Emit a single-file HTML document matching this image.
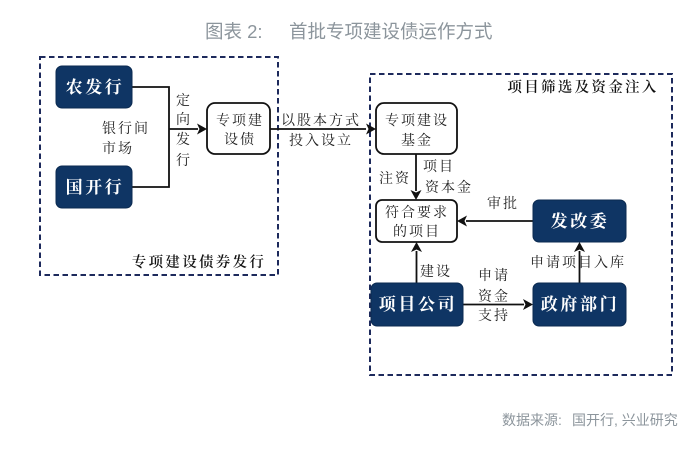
<!DOCTYPE html>
<html><head><meta charset="utf-8"><style>
html,body{margin:0;padding:0;background:#fff}
svg{display:block;filter:blur(.3px)}
.t{font-family:"Liberation Serif","Noto Serif CJK SC",serif;font-size:14px;fill:#1f1f1f;text-anchor:middle;letter-spacing:2px}
.m{font-size:14.500px;letter-spacing:2.300px;font-weight:600;fill:#111}
.w{font-family:"Liberation Serif","Noto Serif CJK SC",serif;font-size:17px;font-weight:700;fill:#fff;text-anchor:middle;letter-spacing:2.600px}
.g{font-family:"Liberation Sans","Noto Sans CJK SC",sans-serif;fill:#8c959c}
.b{fill:#0f3564;stroke:#0b2a50;stroke-width:1}
.o{fill:#fff;stroke:#111;stroke-width:1.8}
.l{fill:none;stroke:#111;stroke-width:1.8}
.d{fill:none;stroke:#1d2a5c;stroke-width:2;stroke-dasharray:5.500 3.500}
</style></head><body>
<svg width="700" height="451" viewBox="0 0 700 451" xmlns="http://www.w3.org/2000/svg">
<rect width="700" height="451" fill="#fff"/>
<text class="g" x="205" y="38" font-size="18.500">图表 2:</text>
<text class="g" x="289" y="38" font-size="18.500">首批专项建设债运作方式</text>

<rect class="d" x="40" y="57" width="238" height="218"/>
<rect class="d" x="370" y="74" width="302" height="301"/>

<path class="l" d="M132 87H169V187H132M169 129H198"/>
<path d="M207 129L197 123.500L199.500 129L197 134.500Z" fill="#111"/>
<path class="l" d="M270 129H366"/>
<path d="M376 129L366 123.500L368.500 129L366 134.500Z" fill="#111"/>
<path class="l" d="M416 154V191"/>
<path d="M416 200L410.500 190L416 192.500L421.500 190Z" fill="#111"/>
<path class="l" d="M533 221H466"/>
<path d="M457 221L467 215.500L464.500 221L467 226.500Z" fill="#111"/>
<path class="l" d="M416.500 283V251"/>
<path d="M416.500 242L411 252L416.500 249.500L422 252Z" fill="#111"/>
<path class="l" d="M579.500 283V251"/>
<path d="M579.500 242L574 252L579.500 249.500L585 252Z" fill="#111"/>
<path class="l" d="M463 304.500H524"/>
<path d="M533 304.500L523 299L525.500 304.500L523 310Z" fill="#111"/>

<rect class="b" x="56" y="66" width="76" height="42" rx="6"/>
<rect class="b" x="56" y="166" width="76" height="42" rx="6"/>
<rect class="o" x="207" y="103" width="63" height="51" rx="8"/>
<rect class="o" x="376" y="103" width="81" height="51" rx="8"/>
<rect class="o" x="376" y="200" width="81" height="42" rx="6"/>
<rect class="b" x="533" y="200" width="93" height="42" rx="6"/>
<rect class="b" x="371" y="283" width="92" height="43" rx="6"/>
<rect class="b" x="533" y="283" width="93" height="43" rx="6"/>

<text class="w" x="95" y="93">农发行</text>
<text class="w" x="95" y="193">国开行</text>
<text class="w" x="580" y="227">发改委</text>
<text class="w" x="418" y="310">项目公司</text>
<text class="w" x="580" y="310">政府部门</text>

<text class="t" x="126" y="133">银行间</text>
<text class="t" x="118" y="153">市场</text>
<text class="t" x="184" y="105">定</text>
<text class="t" x="184" y="124">向</text>
<text class="t" x="184" y="144">发</text>
<text class="t" x="184" y="165">行</text>
<text class="t" x="240" y="125">专项建</text>
<text class="t" x="240" y="144">设债</text>
<text class="t m" x="199" y="267">专项建设债券发行</text>
<text class="t" x="321" y="125">以股本方式</text>
<text class="t" x="321" y="145">投入设立</text>
<text class="t" x="417" y="125">专项建设</text>
<text class="t" x="417" y="145">基金</text>
<text class="t m" x="583" y="92">项目筛选及资金注入</text>
<text class="t" x="395" y="183">注资</text>
<text class="t" x="439" y="171">项目</text>
<text class="t" x="449" y="192">资本金</text>
<text class="t" x="503" y="208">审批</text>
<text class="t" x="417" y="217">符合要求</text>
<text class="t" x="417" y="236">的项目</text>
<text class="t" x="436" y="276">建设</text>
<text class="t" x="494" y="280">申请</text>
<text class="t" x="494" y="301">资金</text>
<text class="t" x="494" y="320">支持</text>
<text class="t" x="578" y="267">申请项目入库</text>
<text class="g" x="502" y="425" font-size="14">数据来源:</text>
<text class="g" x="572" y="425" font-size="14">国开行, 兴业研究</text>
</svg>
</body></html>
